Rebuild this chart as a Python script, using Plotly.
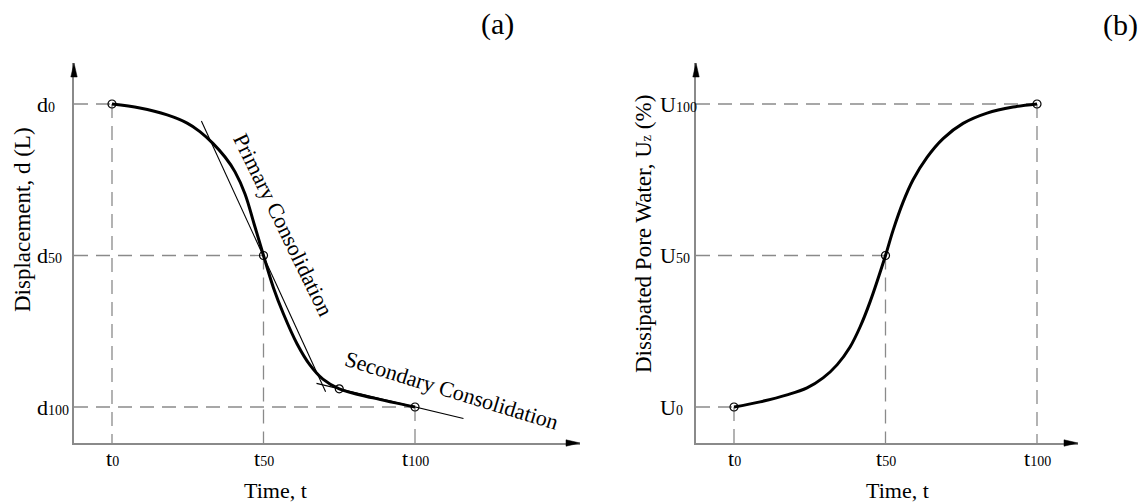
import plotly.graph_objects as go

# Key consolidation stages (percent of the process) used for ticks and guides
stage_values = [0, 50, 100]
stage_subscripts = ["0", "50", "100"]

# (a) displacement curve: time vs displacement
t_disp = [0, 9.2, 18.2, 24.8, 29.0, 33.3, 37.3, 40.6, 43.9, 46.9, 50, 53.3,
          56.6, 61.1, 65.3, 69.6, 75, 86.1, 100]
d_disp = [0, 1.3, 3.6, 6.3, 9.1, 13.0, 17.5, 22.4, 29.7, 39.6, 50, 60.7,
          69.3, 79.2, 86.1, 90.8, 94, 97.0, 100]
# marked point where the secondary tangent meets the curve
t_sec_pt, d_sec_pt = 75, 94

# tangent lines (primary and secondary consolidation)
primary_t = [29.5, 70.5]
primary_d = [5.6, 95.0]
secondary_t = [67.5, 116]
secondary_d = [92.2, 103.8]

# (b) dissipated pore water curve: time vs degree of consolidation
t_pore = [0, 8.6, 17.5, 24.1, 29.4, 34.0, 38.3, 41.6, 44.9, 50, 52.5, 55.8,
          59.1, 63.7, 69.0, 75.6, 83.5, 92.1, 100]
u_pore = [0, 1.7, 4.0, 6.3, 9.6, 13.9, 19.8, 26.4, 34.7, 50, 58.3, 67.6,
          75.0, 82.4, 88.6, 93.6, 97.0, 99.0, 100]

# ---- layout geometry (pixels) ----
W, H = 1148, 504
PX = 151.5 / 50.0           # pixels per unit on every axis
AX_BOTTOM, AX_TOP = 443, 63
A_LEFT, A_RIGHT, A_T0, A_D0 = 74, 580, 112, 104
B_LEFT, B_RIGHT, B_T0, B_U0 = 696, 1078, 734, 407

FONT = "Liberation Serif"
GREY = "#8a8a8a"
SUB = 14


def lab(main, sub):
    return f'{main}<span style="font-size:{SUB}px">{sub}</span>'


fig = go.Figure()
dash = dict(color=GREY, width=1.3, dash="14px,8px")

# ---------- panel (a) ----------
a_x_min = (A_LEFT - A_T0) / PX
a_x_max = (A_RIGHT - A_T0) / PX
a_y_bot = (AX_BOTTOM - A_D0) / PX
a_y_top = (AX_TOP - A_D0) / PX

for v in stage_values:
    # horizontal guide from the axis to the curve point
    fig.add_trace(go.Scatter(x=[a_x_min, v], y=[v, v], mode="lines", line=dash,
                             xaxis="x", yaxis="y", hoverinfo="skip"))
    # vertical guide down to the time axis
    fig.add_trace(go.Scatter(x=[v, v], y=[v, a_y_bot], mode="lines", line=dash,
                             xaxis="x", yaxis="y", hoverinfo="skip"))

fig.add_trace(go.Scatter(x=primary_t, y=primary_d, mode="lines",
                         line=dict(color="black", width=1.1),
                         xaxis="x", yaxis="y", hoverinfo="skip"))
fig.add_trace(go.Scatter(x=secondary_t, y=secondary_d, mode="lines",
                         line=dict(color="black", width=1.1),
                         xaxis="x", yaxis="y", hoverinfo="skip"))
fig.add_trace(go.Scatter(x=t_disp, y=d_disp, mode="lines",
                         line=dict(color="black", width=3, shape="spline",
                                   smoothing=1.0),
                         xaxis="x", yaxis="y", hoverinfo="skip"))
fig.add_trace(go.Scatter(x=stage_values + [t_sec_pt],
                         y=stage_values + [d_sec_pt], mode="markers",
                         marker=dict(symbol="circle-open", size=8,
                                     color="black", line=dict(width=1.2)),
                         xaxis="x", yaxis="y", hoverinfo="skip"))

# ---------- panel (b) ----------
b_x_min = (B_LEFT - B_T0) / PX
b_x_max = (B_RIGHT - B_T0) / PX
b_y_bot = (B_U0 - AX_BOTTOM) / PX
b_y_top = (B_U0 - AX_TOP) / PX

for v in stage_values:
    fig.add_trace(go.Scatter(x=[b_x_min, v], y=[v, v], mode="lines", line=dash,
                             xaxis="x2", yaxis="y2", hoverinfo="skip"))
    fig.add_trace(go.Scatter(x=[v, v], y=[v, b_y_bot], mode="lines", line=dash,
                             xaxis="x2", yaxis="y2", hoverinfo="skip"))

fig.add_trace(go.Scatter(x=t_pore, y=u_pore, mode="lines",
                         line=dict(color="black", width=3, shape="spline",
                                   smoothing=1.0),
                         xaxis="x2", yaxis="y2", hoverinfo="skip"))
fig.add_trace(go.Scatter(x=stage_values, y=stage_values, mode="markers",
                         marker=dict(symbol="circle-open", size=8,
                                     color="black", line=dict(width=1.2)),
                         xaxis="x2", yaxis="y2", hoverinfo="skip"))

# ---------- axes ----------
ydom = [1 - AX_BOTTOM / H, 1 - AX_TOP / H]
axis_common = dict(showgrid=False, zeroline=False, showticklabels=False,
                   ticks="", showline=True, linecolor=GREY, linewidth=1.5,
                   fixedrange=True)

fig.update_layout(
    width=W, height=H,
    margin=dict(l=0, r=0, t=0, b=0),
    paper_bgcolor="white", plot_bgcolor="white",
    showlegend=False,
    xaxis=dict(domain=[A_LEFT / W, A_RIGHT / W], range=[a_x_min, a_x_max],
               anchor="y", **axis_common),
    yaxis=dict(domain=ydom, range=[a_y_bot, a_y_top], anchor="x",
               **axis_common),
    xaxis2=dict(domain=[B_LEFT / W, B_RIGHT / W], range=[b_x_min, b_x_max],
                anchor="y2", **axis_common),
    yaxis2=dict(domain=ydom, range=[b_y_bot, b_y_top], anchor="x2",
                **axis_common),
)

# arrowheads at the ends of the axes, placed in paper space so they are
# not clipped by the plotting area
HEAD_L, HEAD_W = 14, 3.2


def tri_px(pts):
    p = [(x / W, 1 - y / H) for x, y in pts]
    return (f"M {p[0][0]},{p[0][1]} L {p[1][0]},{p[1][1]} "
            f"L {p[2][0]},{p[2][1]} Z")


for left, right in ((A_LEFT, A_RIGHT), (B_LEFT, B_RIGHT)):
    up = tri_px([(left, AX_TOP), (left - HEAD_W, AX_TOP + HEAD_L),
                 (left + HEAD_W, AX_TOP + HEAD_L)])
    rt = tri_px([(right, AX_BOTTOM), (right - HEAD_L, AX_BOTTOM - HEAD_W),
                 (right - HEAD_L, AX_BOTTOM + HEAD_W)])
    for p in (up, rt):
        fig.add_shape(type="path", path=p, xref="paper", yref="paper",
                      fillcolor="black", line=dict(color="black", width=0.5),
                      layer="above")

font = dict(family=FONT, size=22, color="black")
ann = []
for v, s in zip(stage_values, stage_subscripts):
    # y tick labels (left aligned)
    ann.append(dict(text=lab("d", s), x=35 / W, xref="paper", y=v, yref="y",
                    xanchor="left", yanchor="middle", showarrow=False, font=font))
    ann.append(dict(text=lab("U", s), x=658 / W, xref="paper", y=v, yref="y2",
                    xanchor="left", yanchor="middle", showarrow=False, font=font))
    # time tick labels
    for xr in ("x", "x2"):
        ann.append(dict(text=lab("t", s), x=v, xref=xr, y=1 - 458 / H,
                        yref="paper", xanchor="center", yanchor="middle",
                        showarrow=False, font=font))

for xr in ("x", "x2"):
    ann.append(dict(text="Time, t", x=54, xref=xr, y=1 - 490 / H, yref="paper",
                    xanchor="center", yanchor="middle", showarrow=False,
                    font=font))

ann.append(dict(text="Displacement, d (L)", x=22 / W, xref="paper", y=1 - 220 / H,
                yref="paper", textangle=-90, xanchor="center", yanchor="middle",
                showarrow=False, font=dict(family=FONT, size=23, color="black")))
ann.append(dict(text="Dissipated Pore Water, U" +
                '<span style="font-size:14px">z</span> (%)',
                x=643 / W, xref="paper", y=1 - 234 / H, yref="paper",
                textangle=-90, xanchor="center", yanchor="middle",
                showarrow=False, font=dict(family=FONT, size=23, color="black")))

ann.append(dict(text="Primary Consolidation", x=56.4, xref="x", y=39.9,
                yref="y", textangle=64, xanchor="center", yanchor="middle",
                showarrow=False, font=font))
ann.append(dict(text="Secondary Consolidation", x=112.2, xref="x", y=94.4,
                yref="y", textangle=17, xanchor="center", yanchor="middle",
                showarrow=False, font=font))

ann.append(dict(text="(a)", x=497 / W, xref="paper", y=1 - 24 / H,
                yref="paper", xanchor="center", yanchor="middle",
                showarrow=False, font=dict(family=FONT, size=30, color="black")))
ann.append(dict(text="(b)", x=1120 / W, xref="paper", y=1 - 25 / H,
                yref="paper", xanchor="center", yanchor="middle",
                showarrow=False, font=dict(family=FONT, size=30, color="black")))

fig.update_layout(annotations=ann)
fig.write_html("out.html")
